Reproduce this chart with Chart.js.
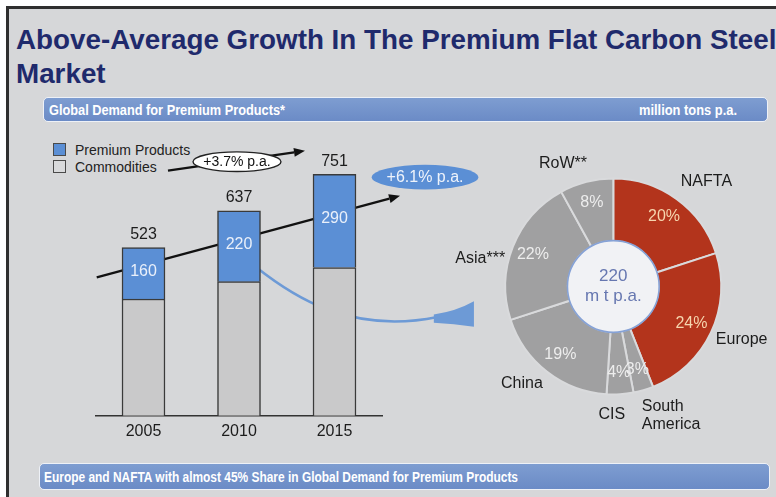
<!DOCTYPE html>
<html>
<head>
<meta charset="utf-8">
<title>Above-Average Growth In The Premium Flat Carbon Steel Market</title>
<script src="https://cdn.jsdelivr.net/npm/chart.js@4.4.1/dist/chart.umd.min.js"></script>
<style>
html,body{margin:0;padding:0;}
body{width:776px;height:497px;overflow:hidden;position:relative;background:#ffffff;font-family:"Liberation Sans",Arial,sans-serif;}
#frame{position:absolute;left:6px;top:6px;width:820px;height:540px;border-top:3px solid #2f2f2f;border-left:3px solid #2f2f2f;background:#d6d7d9;}
#title{position:absolute;left:16px;top:22.6px;font-weight:bold;font-size:27.8px;line-height:34px;color:#1f2a6c;white-space:nowrap;}
.band{position:absolute;box-sizing:border-box;border:1.5px solid #eef1f7;border-radius:5px;background:linear-gradient(to bottom,#7e9dd1,#6b8bc6);}
.band span{position:absolute;white-space:nowrap;color:#ffffff;font-family:"Liberation Sans Narrow","Arial Narrow","Liberation Sans",Arial,sans-serif;font-weight:bold;font-size:14px;line-height:16px;transform-origin:0 50%;}
.li{position:absolute;white-space:nowrap;font-size:14px;line-height:14px;color:#222;}
.sw{position:absolute;left:0;top:0;width:11px;height:11px;border:1px solid #4a4a4a;}
.lt{position:absolute;left:22px;top:0;}
canvas{position:absolute;left:0;top:0;}
</style>
</head>
<body>
<div id="frame"></div>
<div id="title"></div>
<div class="band" id="headBand" style="left:42.7px;top:97px;width:725.5px;height:25px;">
  <span id="headLeft" style="left:5px;top:4px;"></span>
  <span id="headRight" style="left:595px;top:4px;"></span>
</div>
<div class="band" id="footBand" style="left:39.3px;top:463px;width:731px;height:27px;">
  <span id="footText" style="left:4.2px;top:4.6px;"></span>
</div>
<div id="legend"></div>
<canvas id="barCanvas" width="776" height="497"></canvas>
<canvas id="pieCanvas" width="776" height="497"></canvas>
<script>
// ---------------- data ----------------
const titleLines = ['Above-Average Growth In The Premium Flat Carbon Steel', 'Market'];
const headerLeft = 'Global Demand for Premium Products*';
const headerRight = 'million tons p.a.';
const footerText = 'Europe and NAFTA with almost 45% Share in Global Demand for Premium Products';

const years = ['2005', '2010', '2015'];
const premiumProducts = [160, 220, 290];
const commodities = [363, 417, 461];
const totalDemand = [523, 637, 751];
const seriesNames = ['Premium Products', 'Commodities'];
const growthTotal = '+3.7% p.a.';
const growthPremium = '+6.1% p.a.';

const regions = ['NAFTA', 'Europe', 'South America', 'CIS', 'China', 'Asia***', 'RoW**'];
const regionShares = [20, 24, 3, 4, 19, 22, 8];
const shareLabels = ['20%', '24%', '3%', '4%', '19%', '22%', '8%'];
const centerLabel = ['220', 'm t p.a.'];

// ---------------- styles / layout ----------------
const FONT = '"Liberation Sans", Arial, sans-serif';
const C = {
  premium: '#5b8fd5', commodity: '#c9c9ca', barBorder: '#3a3a3a',
  red: '#b3341c', gray: '#a0a0a1', sep: '#d9dadc',
  text: '#1c1c1c', barValue: '#eaf0fa', flow: '#6d9ad6',
  redLabel: '#f6d5ae', grayLabel: '#ededed', center: '#6677b0'
};
// annotation anchors in data space [category index, value]
const trendPremium = { from: [-0.49, 430], to: [2.686, 684] };
const trendTotal = { from: [0.2565, 762], to: [1.691, 824] };
const totalBadge = { at: [0.979, 790], rx: 44, ry: 9.8 };
const premiumBadge = { at: [2.948, 742], rx: 53.3, ry: 12.3 };
const flowCurve = [[1.18, 462], [1.55, 375], [2.16, 251], [3.08, 307]];
const flowHead = { tail: [3.04, 315], top: [3.46, 356], bottom: [3.46, 277], tail2: [3.04, 289] };
// outer pie labels: angle (deg clockwise from 12 o'clock), radius px
const outerLabelLayout = [
  { ang: 41.7, r: 140 }, { ang: 112.6, r: 139 }, { ang: 167.6, r: 132.6, align: 'left' },
  { ang: 180.7, r: 128.5 }, { ang: 223.4, r: 133 }, { ang: 282, r: 136 }, { ang: 337.8, r: 133 }
];

// ---------------- HTML texts ----------------
document.getElementById('title').innerHTML = titleLines.join('<br>');
document.getElementById('headLeft').textContent = headerLeft;
document.getElementById('headRight').textContent = headerRight;
document.getElementById('footText').textContent = footerText;
function fit(id, w) {
  const el = document.getElementById(id);
  const r = el.getBoundingClientRect().width;
  if (r > 0) el.style.transform = 'scaleX(' + (w / r) + ')';
}
fit('headLeft', 236); fit('headRight', 98); fit('footText', 474);

const legendItems = [
  { name: seriesNames[0], color: C.premium, top: 143 },
  { name: seriesNames[1], color: C.sep, top: 160 }
];
const lg = document.getElementById('legend');
legendItems.forEach(it => {
  const d = document.createElement('div');
  d.className = 'li';
  d.style.left = '53px'; d.style.top = it.top + 'px';
  d.innerHTML = '<span class="sw" style="background:' + it.color + '"></span><span class="lt"></span>';
  d.querySelector('.lt').textContent = it.name;
  lg.appendChild(d);
});

// ---------------- helpers ----------------
function arrowLine(ctx, a, b, color, w, headLen, headHalf) {
  const ang = Math.atan2(b[1] - a[1], b[0] - a[0]);
  const bx = b[0] - Math.cos(ang) * headLen, by = b[1] - Math.sin(ang) * headLen;
  ctx.strokeStyle = color; ctx.fillStyle = color; ctx.lineWidth = w; ctx.lineCap = 'butt';
  ctx.beginPath(); ctx.moveTo(a[0], a[1]); ctx.lineTo(bx, by); ctx.stroke();
  ctx.beginPath();
  ctx.moveTo(b[0], b[1]);
  ctx.lineTo(bx + Math.sin(ang) * headHalf, by - Math.cos(ang) * headHalf);
  ctx.lineTo(bx - Math.sin(ang) * headHalf, by + Math.cos(ang) * headHalf);
  ctx.closePath(); ctx.fill();
}

Chart.defaults.font.family = FONT;

// ---------------- bar chart ----------------
const barAnnotations = {
  id: 'barAnnotations',
  beforeDatasetsDraw(chart) {
    const ctx = chart.ctx, xs = chart.scales.x, ys = chart.scales.y;
    const P = a => [xs.getPixelForValue(a[0]), ys.getPixelForValue(a[1])];
    ctx.save();
    arrowLine(ctx, P(trendPremium.from), P(trendPremium.to), '#111111', 2.3, 11, 4.5);
    const c = flowCurve.map(P);
    ctx.strokeStyle = C.flow; ctx.lineWidth = 2.6;
    ctx.beginPath(); ctx.moveTo(c[0][0], c[0][1]);
    ctx.bezierCurveTo(c[1][0], c[1][1], c[2][0], c[2][1], c[3][0], c[3][1]);
    ctx.stroke();
    const t = P(flowHead.tail), tp = P(flowHead.top), bt = P(flowHead.bottom), t2 = P(flowHead.tail2);
    ctx.fillStyle = C.flow;
    ctx.beginPath(); ctx.moveTo(t[0], t[1]);
    ctx.quadraticCurveTo(t[0] + 22, t[1] - 3, tp[0], tp[1]);
    ctx.lineTo(bt[0], bt[1]);
    ctx.quadraticCurveTo(t2[0] + 20, t2[1] + 1, t2[0], t2[1]);
    ctx.closePath(); ctx.fill();
    ctx.restore();
  },
  afterDatasetsDraw(chart) {
    const ctx = chart.ctx, xs = chart.scales.x, ys = chart.scales.y;
    const P = a => [xs.getPixelForValue(a[0]), ys.getPixelForValue(a[1])];
    ctx.save();
    ctx.textAlign = 'center'; ctx.textBaseline = 'middle';
    const top = chart.getDatasetMeta(1).data;
    top.forEach((el, i) => {
      ctx.fillStyle = C.text; ctx.font = '16px ' + FONT;
      ctx.fillText(String(totalDemand[i]), el.x, el.y - 13);
      ctx.fillStyle = C.barValue; ctx.font = '16px ' + FONT;
      ctx.fillText(String(premiumProducts[i]), el.x, (el.y + el.base) / 2 - 2);
    });
    // total growth arrow and badge
    arrowLine(ctx, P(trendTotal.from), P(trendTotal.to), '#111111', 2.3, 11, 4.5);
    const tb = P(totalBadge.at);
    ctx.beginPath(); ctx.ellipse(tb[0], tb[1], totalBadge.rx, totalBadge.ry, 0, 0, Math.PI * 2);
    ctx.fillStyle = '#ffffff'; ctx.fill();
    ctx.lineWidth = 1.4; ctx.strokeStyle = '#222222'; ctx.stroke();
    ctx.fillStyle = '#111111'; ctx.font = '14px ' + FONT;
    ctx.fillText(growthTotal, tb[0], tb[1] + 0.5);
    // premium growth badge
    const pb = P(premiumBadge.at);
    ctx.beginPath(); ctx.ellipse(pb[0], pb[1], premiumBadge.rx, premiumBadge.ry, 0, 0, Math.PI * 2);
    ctx.fillStyle = C.premium; ctx.fill();
    ctx.fillStyle = '#eef3fb'; ctx.font = '16px ' + FONT;
    ctx.fillText(growthPremium, pb[0], pb[1] + 0.5);
    ctx.restore();
  }
};

new Chart(document.getElementById('barCanvas'), {
  type: 'bar',
  data: {
    labels: years,
    datasets: [
      { label: seriesNames[1], data: commodities, backgroundColor: C.commodity, borderColor: C.barBorder, borderWidth: 1.5, barThickness: 43 },
      { label: seriesNames[0], data: premiumProducts, backgroundColor: C.premium, borderColor: C.barBorder, borderWidth: 1.5, barThickness: 43 }
    ]
  },
  options: {
    responsive: false, animation: false,
    layout: { padding: { left: 95.75, right: 393.75, top: 126.35, bottom: 51.3 } },
    plugins: { legend: { display: false }, tooltip: { enabled: false } },
    scales: {
      x: {
        stacked: true,
        grid: { display: false, drawTicks: false },
        border: { display: true, color: '#333333', width: 1.5 },
        ticks: { color: C.text, font: { size: 16 }, padding: 6 },
        afterFit(s) { s.height = 30; }
      },
      y: { stacked: true, display: false, min: 0, max: 900 }
    }
  },
  plugins: [barAnnotations]
});

// ---------------- doughnut ----------------
const regionColors = regions.map((r, i) => (i < 2 ? C.red : C.gray));
const pieLabels = {
  id: 'pieLabels',
  afterDatasetsDraw(chart) {
    const ctx = chart.ctx;
    const arcs = chart.getDatasetMeta(0).data;
    const cx = arcs[0].x, cy = arcs[0].y, R = arcs[0].outerRadius, r0 = arcs[0].innerRadius;
    ctx.save();
    // inner disc
    ctx.beginPath(); ctx.arc(cx, cy, r0 + 0.5, 0, Math.PI * 2);
    ctx.fillStyle = '#f1f2f5'; ctx.fill();
    ctx.lineWidth = 1.6; ctx.strokeStyle = '#86a2d6'; ctx.stroke();
    ctx.textAlign = 'center'; ctx.textBaseline = 'middle';
    ctx.fillStyle = C.center; ctx.font = '17px ' + FONT;
    ctx.fillText(centerLabel[0], cx, cy - 10);
    ctx.fillText(centerLabel[1], cx, cy + 10);
    // share labels
    ctx.font = '16px ' + FONT;
    arcs.forEach((a, i) => {
      const mid = (a.startAngle + a.endAngle) / 2;
      const rr = R * 0.8;
      ctx.fillStyle = i < 2 ? C.redLabel : C.grayLabel;
      ctx.fillText(shareLabels[i], cx + Math.cos(mid) * rr, cy + Math.sin(mid) * rr);
    });
    // region labels
    ctx.fillStyle = C.text;
    regions.forEach((name, i) => {
      const L = outerLabelLayout[i];
      const th = (L.ang - 90) * Math.PI / 180;
      const x = cx + Math.cos(th) * L.r, y = cy + Math.sin(th) * L.r;
      if (L.align === 'left') {
        ctx.textAlign = 'left';
        const parts = name.split(' ');
        ctx.fillText(parts[0], x, y - 9);
        ctx.fillText(parts.slice(1).join(' '), x, y + 9);
        ctx.textAlign = 'center';
      } else {
        ctx.fillText(name, x, y);
      }
    });
    ctx.restore();
  }
};

new Chart(document.getElementById('pieCanvas'), {
  type: 'doughnut',
  data: {
    labels: regions,
    datasets: [{ data: regionShares, backgroundColor: regionColors, borderColor: C.sep, borderWidth: 2 }]
  },
  options: {
    responsive: false, animation: false, cutout: '42%',
    layout: { padding: { left: 504.3, right: 53.7, top: 177.5, bottom: 101.5 } },
    plugins: { legend: { display: false }, tooltip: { enabled: false } }
  },
  plugins: [pieLabels]
});
</script>
</body>
</html>
